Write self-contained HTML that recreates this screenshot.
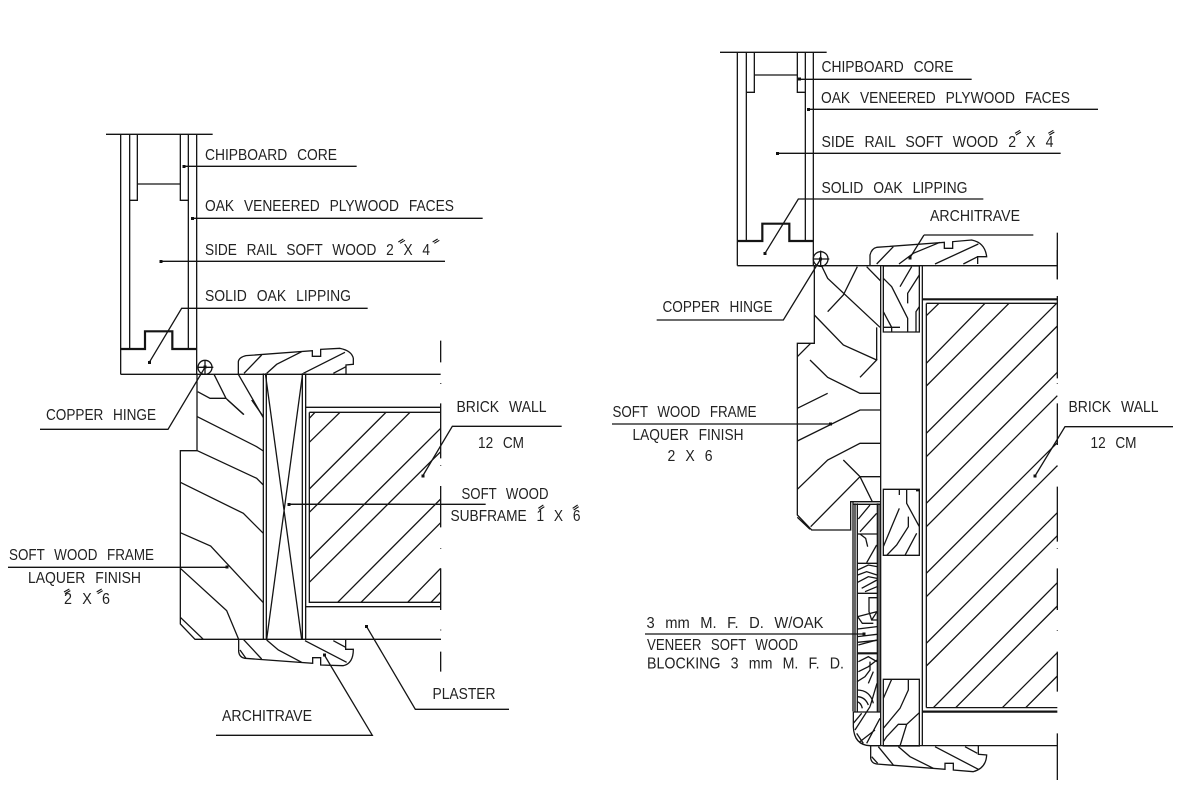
<!DOCTYPE html>
<html><head><meta charset="utf-8"><style>
html,body{margin:0;padding:0;background:#fff}
svg{display:block}
path,circle{fill:none;stroke:#141414;stroke-width:1.3;vector-effect:non-scaling-stroke}
.t{stroke-width:2.2}
.m{stroke-width:1.1}
text{font-family:"Liberation Sans",sans-serif;font-size:16px;fill:#222;word-spacing:7px}
</style></head><body>
<svg width="1179" height="793" viewBox="0 0 1179 793" xmlns="http://www.w3.org/2000/svg">

<!-- LEFT: door, zoom1 coords -->
<g transform="translate(90,120) scale(.33333)">
<path d="M48 43H368M92 43V763M119 43V687M295 43V687M320 43V763M142 43V241H119M271 43V241H295M142 192H271M92 763H1052"/>
<path class="t" d="M92 687H165V634H247V687H320"/>
<circle cx="345" cy="742" r="21"/>
<path d="M322 742H370M345 720V765"/>
<path d="M282 139H800M308 295H1178M213 424H1065M833 565H275L178 727M345 742L234 928H-150"/>
<path d="M445 763V725Q447 712 468 707L667 692V709H692V688L750 685Q785 692 790 715V733L768 735V763"/>
<path d="M462 760L515 705M530 760L560 733L635 695M640 760L765 697M730 760L768 740"/>
<path d="M372 763L408 835L460 883M408 835H360L323 815M445 763L520 893M1052 662V727M1052 789V791"/>
<path class="m" d="M925 366L940 357M930 370L945 361M1028 366L1043 357M1033 370L1048 361"/>
</g>
<g transform="translate(0,400) scale(.33333)">
<path d="M591 -80V152H541V672L585 718H1323M541 652L610 718"/>
<path d="M790 -80V718M799 -80V718M907 -80V718M917 -80V718"/>
<path d="M796 -80L905 718M908 -80L800 718"/>
<path d="M592 50L770 140L790 153M592 152L770 235L790 255M541 247L730 340L790 400M541 398L632 438L790 608M541 505L680 632L716 718"/>
<path d="M683 0L732 44M755 0L790 50"/>
<path d="M716 718V755Q718 772 735 775L938 790V773H962V795L1030 797Q1060 790 1060 748H1037V718"/>
<path d="M720 750L738 775M730 718L785 777M800 720L835 750L905 787M915 722L1040 787M1000 722L1037 742"/>
<path d="M973 765L1117 1006H648M24 502H681M867 313H1200"/>
<path class="m" d="M192 576L208 567M195 581L211 572M290 576L305 567M293 581L308 572"/>
</g>
<g transform="translate(290,380) scale(.33333)">
<path d="M47 82H452M58 97H452M58 97V667H452M47 680H452"/>
<path d="M58 115L75 97M58 187L150 97M58 327L288 97M58 397L360 97M58 537L452 145M58 607L452 215M143 667L452 357M213 667L452 428M353 667L452 565M423 667L452 637"/>
<path d="M452 70V235M452 318V442M452 565V690M452 815V875M452 9V11M452 256V258M452 504V506M452 749V751"/>
<path d="M815 139H487L398 288M0 373H587M657 988H376L230 740"/>
<path class="m" d="M745 385L760 375M748 390L763 380M848 385L863 375M851 390L866 380"/>
</g>

<!-- RIGHT: zoom4 coords -->
<g transform="translate(700,40) scale(.33333)">
<path d="M60 37H380M112 37V677M139 37V603M316 37V603M340 37V677M163 37V157H139M292 37V157H316M163 105H292M112 677H1072"/>
<path class="t" d="M112 603H187V551H268V603H340"/>
<circle cx="362" cy="657" r="22"/>
<path d="M340 657H388M362 632V680"/>
<path d="M298 118H815M325 208H1194M232 340H1082M850 477H295L195 640M672 585H1000M672 585L630 653M362 657L250 840H-130"/>
<path d="M510 677V645Q515 625 530 622L733 607V625H758V605L815 600Q855 608 860 650H833V672"/>
<path d="M530 672L580 620M597 672L640 640L720 607M705 672L835 612M790 672L833 650"/>
<path d="M1072 578V718"/>
<path class="m" d="M945 280L960 271M948 285L963 276M1045 280L1060 271M1048 285L1063 276"/>
</g>
<g transform="translate(780,250) scale(.33333)">
<path d="M103 48V280H52V795L95 840H212V755H302M52 802L90 838M220 763H302"/>
<path d="M302 48V1487M290 232V330M427 48V1487M439 160V1373M310 48H418V246H310ZM439 160H832M439 1373H832M272 1487H832"/>
<path class="t" d="M427 148H832M427 1385H832"/>
<path d="M125 48L143 85L300 232M232 50L190 135L143 185M260 50L302 93M103 195L190 285L290 330L240 382M52 320L92 280M90 330L143 382L240 430H302M52 475L143 430M52 573L240 480H302M52 718L143 630L240 580H302M190 630L240 680L277 755M240 680H302M92 830L240 680"/>
<path d="M310 85L335 110L383 205V246M395 50L360 110M418 75L383 130V160M418 170L408 185V246M310 185L335 232V246M310 232H360"/>
<path d="M439 197L477 160M439 340L615 160M439 408L687 160M439 550L830 160M439 620L832 228M439 760L832 367M439 830L832 437M439 970L832 578M439 1040L832 647M439 1180L832 788M439 1248L832 857M460 1373L832 998M527 1373L832 1068M667 1373L832 1208M737 1373L832 1278"/>
<path d="M832 0V88M832 138V385M832 399V401M832 460V585M832 647V649M832 710V875M832 895V897M832 955V1080M832 1140V1142M832 1205V1325M832 1450V1590"/>
<path d="M1179 530H855L765 678M-504 522H150"/>
</g>
<!-- lower block 1 + upper grain (zoom6) -->
<g transform="translate(780,480) scale(.33333)">
<path d="M310 28H418V226H310ZM408 32H418M358 28V45M380 28V70L418 140M358 85L335 140L310 200M385 110V140L350 195L320 226M410 160L375 226"/>
<path d="M219 65V695M225 70V695M232 70V695M292 70V695M297 70V695"/>
<path d="M-405 462H252"/>
<path d="M272 797V835Q275 850 290 852L495 868V850H520V870L580 875Q618 865 620 825L595 823V797"/>
<path d="M275 830L293 850M295 800L340 855M355 800L390 830L460 865M465 800L595 868M555 800L592 820"/>
</g>
<!-- blocking (zoom8) -->
<g transform="translate(845,495) scale(.33333)">
<path d="M36 117H96M36 205H96M36 295H96"/>
<path d="M75 30L40 72M95 55L45 110M45 117L62 130L68 155M95 150L65 203"/>
<path d="M38 225L70 210L96 215M38 240L65 230L96 240M38 262L70 245L96 250M50 280L96 255M60 290L96 275"/>
<path d="M96 308H72V350L80 375H96M38 365L96 350M38 365L52 385H85M96 350L80 375"/>
<path d="M38 402L96 395M38 425L96 418M38 442L96 436"/>
</g>
<!-- blocking lower, corner, bottom block (zoom9) -->
<g transform="translate(845,640) scale(.33333)">
<path d="M115 118H223V318H115Z"/>
<path d="M140 118L115 175M190 118V150L165 205L115 265M223 218L185 253H160L125 290L115 305M185 253L165 318"/>
<path class="t" d="M36 40H96"/>
<path d="M40 15L96 0M40 65L70 50L96 65M40 95L70 80L96 60M36 125L60 110L75 90V65M70 130L85 95"/>
<path d="M36 150Q75 150 85 190M36 170Q60 170 70 195M36 185Q48 188 52 205M96 130L75 200"/>
<path d="M25 216H106M25 216V260Q27 315 75 317H106M50 220L25 250M75 200L30 270M105 235L65 310M90 270L45 305M35 280L55 310"/>
</g>

<!-- LABELS LEFT -->
<text x="205" y="160" textLength="132" lengthAdjust="spacingAndGlyphs">CHIPBOARD CORE</text>
<text x="205" y="211" textLength="249" lengthAdjust="spacingAndGlyphs">OAK VENEERED PLYWOOD FACES</text>
<text x="205" y="255" textLength="225" lengthAdjust="spacingAndGlyphs">SIDE RAIL SOFT WOOD 2 X 4</text>
<text x="205" y="301" textLength="146" lengthAdjust="spacingAndGlyphs">SOLID OAK LIPPING</text>
<text x="46" y="420" textLength="110" lengthAdjust="spacingAndGlyphs">COPPER HINGE</text>
<text x="456.500" y="412" textLength="90" lengthAdjust="spacingAndGlyphs">BRICK WALL</text>
<text x="478" y="448" textLength="46" lengthAdjust="spacingAndGlyphs">12 CM</text>
<text x="461.500" y="499" textLength="87" lengthAdjust="spacingAndGlyphs">SOFT WOOD</text>
<text x="450.500" y="521" textLength="130" lengthAdjust="spacingAndGlyphs">SUBFRAME 1 X 6</text>
<text x="9" y="560" textLength="145" lengthAdjust="spacingAndGlyphs">SOFT WOOD FRAME</text>
<text x="28" y="583" textLength="113" lengthAdjust="spacingAndGlyphs">LAQUER FINISH</text>
<text x="64" y="604" textLength="46" lengthAdjust="spacingAndGlyphs">2 X 6</text>
<text x="432.500" y="699" textLength="63" lengthAdjust="spacingAndGlyphs">PLASTER</text>
<text x="222" y="721" textLength="90" lengthAdjust="spacingAndGlyphs">ARCHITRAVE</text>

<!-- LABELS RIGHT -->
<text x="821.500" y="72" textLength="132" lengthAdjust="spacingAndGlyphs">CHIPBOARD CORE</text>
<text x="821" y="103" textLength="249" lengthAdjust="spacingAndGlyphs">OAK VENEERED PLYWOOD FACES</text>
<text x="821.500" y="147" textLength="232" lengthAdjust="spacingAndGlyphs">SIDE RAIL SOFT WOOD 2 X 4</text>
<text x="821.500" y="193" textLength="146" lengthAdjust="spacingAndGlyphs">SOLID OAK LIPPING</text>
<text x="930" y="221" textLength="90" lengthAdjust="spacingAndGlyphs">ARCHITRAVE</text>
<text x="662.500" y="312" textLength="110" lengthAdjust="spacingAndGlyphs">COPPER HINGE</text>
<text x="612.500" y="417" textLength="144" lengthAdjust="spacingAndGlyphs">SOFT WOOD FRAME</text>
<text x="632.500" y="440" textLength="111" lengthAdjust="spacingAndGlyphs">LAQUER FINISH</text>
<text x="667.500" y="461" textLength="45" lengthAdjust="spacingAndGlyphs">2 X 6</text>
<text x="1068.500" y="412" textLength="90" lengthAdjust="spacingAndGlyphs">BRICK WALL</text>
<text x="1090.500" y="448" textLength="46" lengthAdjust="spacingAndGlyphs">12 CM</text>
<text x="646.500" y="628" textLength="177" lengthAdjust="spacingAndGlyphs">3 mm M. F. D. W/OAK</text>
<text x="647" y="650" textLength="151" lengthAdjust="spacingAndGlyphs">VENEER SOFT WOOD</text>
<text x="647" y="668.500" textLength="197" lengthAdjust="spacingAndGlyphs">BLOCKING 3 mm M. F. D.</text>

<!-- leader dots -->
<g fill="#111">
<rect x="182.500" y="165" width="3" height="3"/><rect x="191" y="217" width="3" height="3"/><rect x="159.500" y="260" width="3" height="3"/><rect x="148" y="361" width="3" height="3"/>
<rect x="421.500" y="474.500" width="3" height="3"/><rect x="287.500" y="503" width="3" height="3"/><rect x="225.500" y="565.500" width="3" height="3"/><rect x="365" y="625" width="3" height="3"/><rect x="323" y="653.500" width="3" height="3"/>
<rect x="798" y="77.500" width="3" height="3"/><rect x="807" y="108" width="3" height="3"/><rect x="776" y="152" width="3" height="3"/><rect x="763.500" y="252" width="3" height="3"/><rect x="908.500" y="256.500" width="3" height="3"/>
<rect x="829" y="422.500" width="3" height="3"/><rect x="1033.500" y="474.500" width="3" height="3"/><rect x="862.500" y="632.500" width="3" height="3"/>
<rect x="203.500" y="365.500" width="3" height="3"/><rect x="819" y="257.500" width="3" height="3"/>
</g>
</svg>
</body></html>
